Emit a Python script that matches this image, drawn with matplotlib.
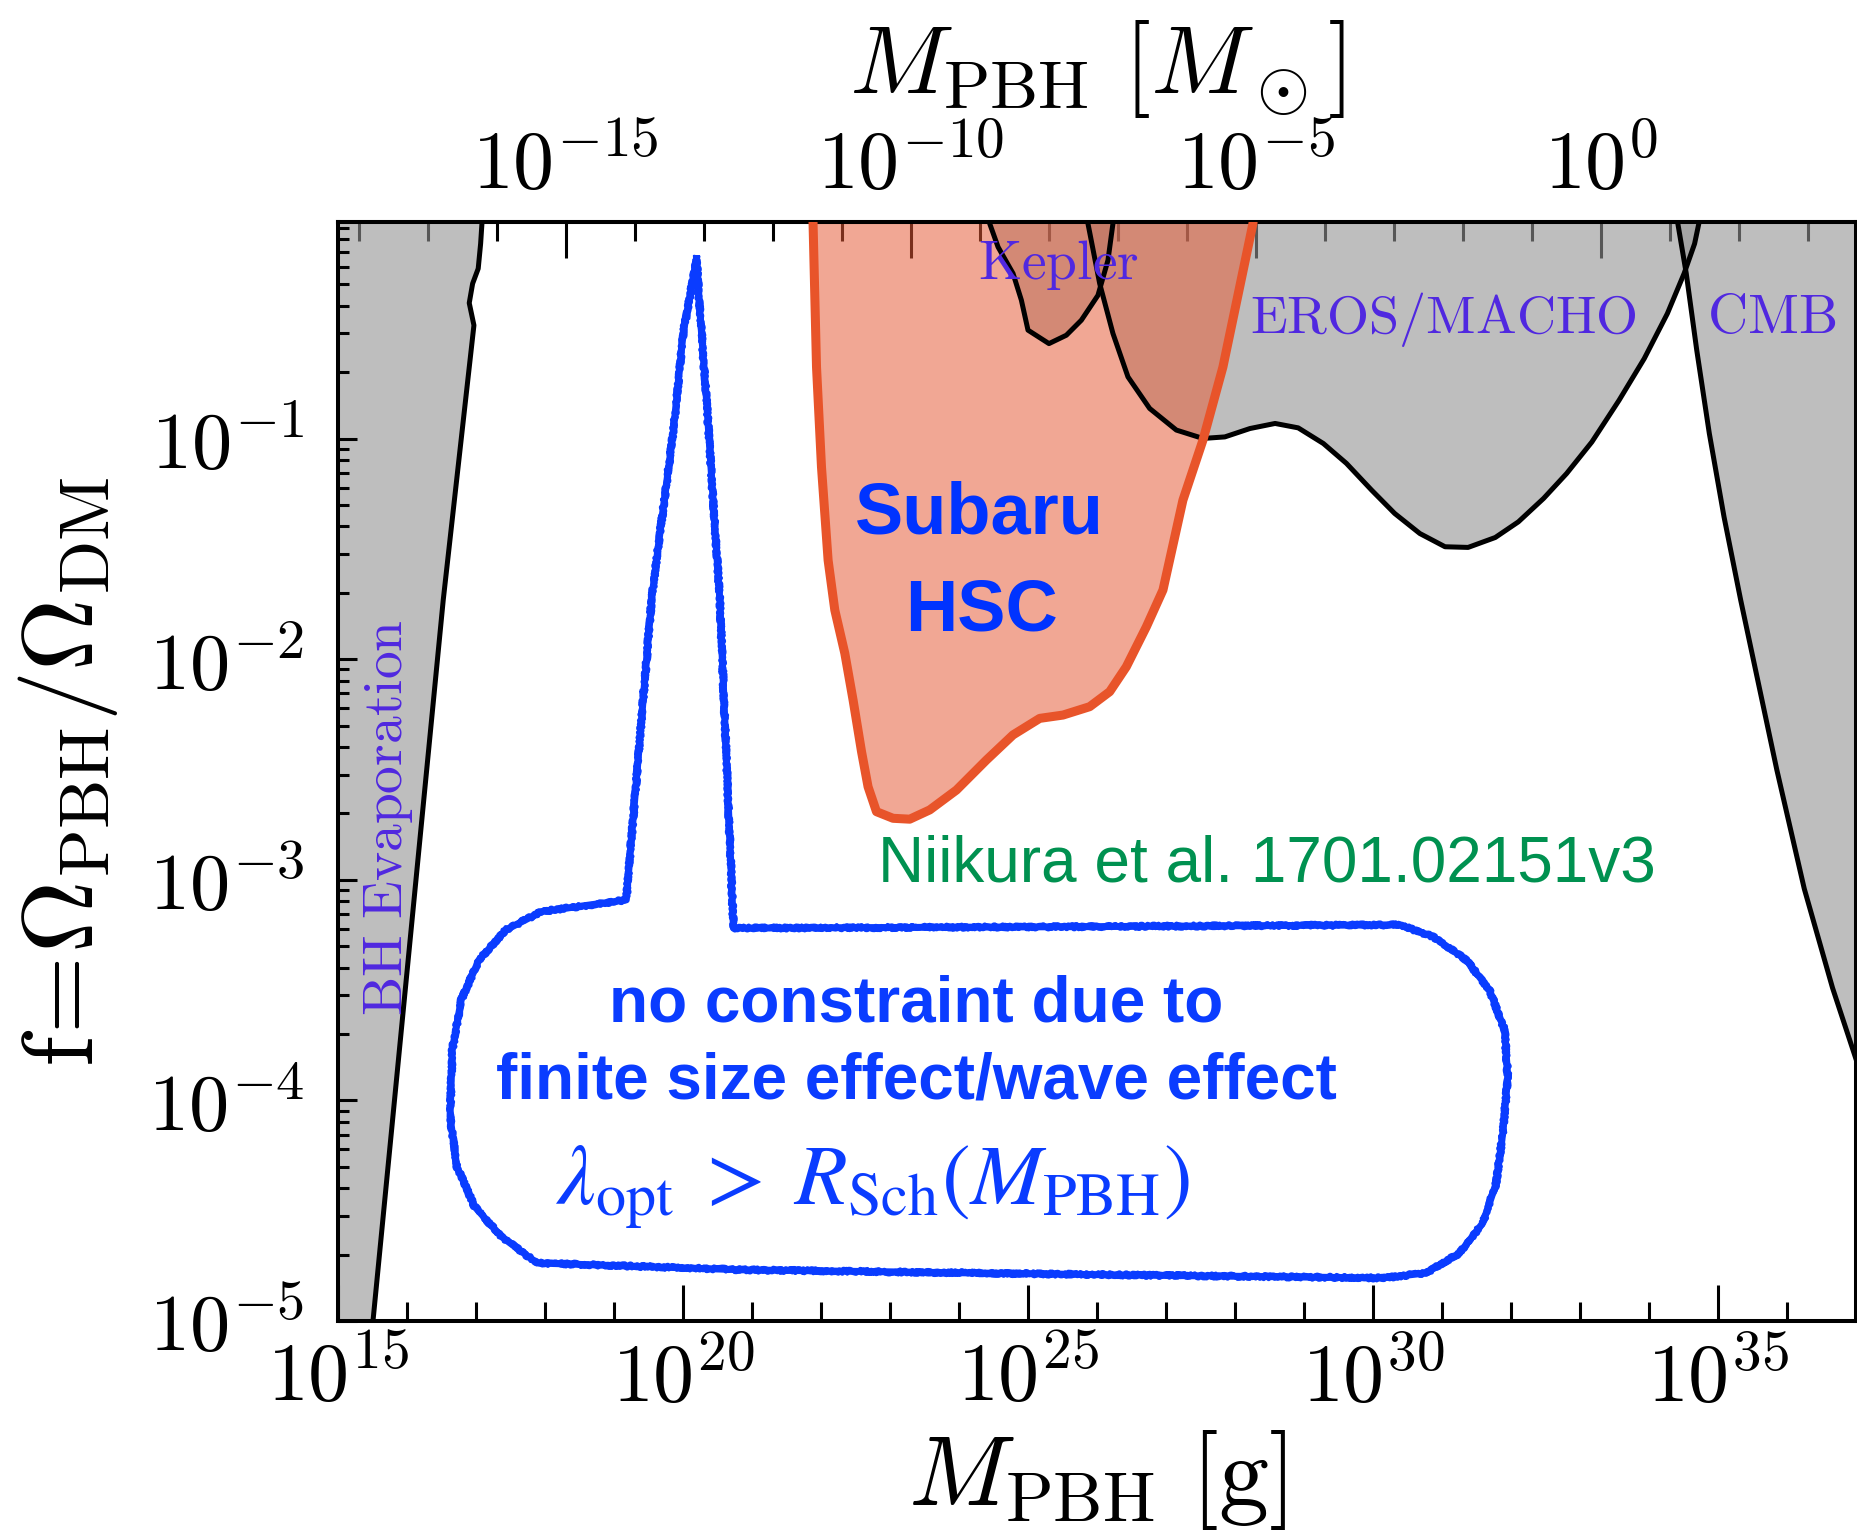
import numpy as np
import matplotlib
matplotlib.use("Agg")
import matplotlib.pyplot as plt

plt.rcParams['mathtext.fontset'] = 'cm'

# all curves stored as log10(M [g]) and log10(f)
bh_logm = [15.30, 15.507, 16.525, 16.970, 16.902, 16.951, 17.032, 17.067, 17.086, 17.10]
bh_logf = [-5.3, -5.0, -1.732, -0.486, -0.385, -0.297, -0.229, -0.116, -0.025, 0.05]

kep_logm = [24.43, 24.445, 24.566, 24.783, 24.904, 25.000, 25.304, 25.556, 25.773, 26.014, 26.159, 26.231, 26.24]
kep_logf = [0.05, -0.025, -0.131, -0.251, -0.372, -0.508, -0.569, -0.531, -0.463, -0.350, -0.191, -0.025, 0.05]

eros_logm = [25.85, 25.869, 26.039, 26.231, 26.449, 26.763, 27.150, 27.535, 27.853, 28.217, 28.581,
             28.916, 29.281, 29.615, 29.979, 30.314, 30.679, 31.044, 31.378, 31.772, 32.107,
             32.472, 32.806, 33.172, 33.566, 33.931, 34.266, 34.509, 34.661, 34.722, 34.73]
eros_logf = [0.05, -0.025, -0.297, -0.523, -0.720, -0.863, -0.961, -0.999, -0.992, -0.954, -0.931,
             -0.951, -1.022, -1.112, -1.233, -1.339, -1.430, -1.490, -1.493, -1.448, -1.377,
             -1.271, -1.158, -1.015, -0.826, -0.637, -0.433, -0.251, -0.116, -0.025, 0.05]

cmb_logm = [34.40, 34.418, 34.540, 34.692, 34.874, 35.087, 35.329, 35.853, 36.25, 36.66, 37.05]
cmb_logf = [0.05, -0.025, -0.251, -0.599, -0.976, -1.354, -1.732, -2.502, -3.04, -3.49, -3.86]

hsc_logm = [21.88, 21.885, 21.935, 22.007, 22.103, 22.200, 22.345, 22.465, 22.587, 22.682, 22.804,
            23.044, 23.286, 23.576, 23.963, 24.397, 24.783, 25.170, 25.507, 25.894, 26.184,
            26.425, 26.715, 26.956, 27.245, 27.535, 27.825, 28.260, 28.28]
hsc_logf = [0.05, -0.025, -0.675, -1.128, -1.551, -1.777, -1.973, -2.185, -2.418, -2.578, -2.691,
            -2.721, -2.725, -2.683, -2.593, -2.457, -2.343, -2.268, -2.253, -2.215, -2.147,
            -2.034, -1.853, -1.686, -1.279, -1.007, -0.675, -0.025, 0.05]

# hand drawn "no constraint" bubble
blob_logm = [20.196, 20.002, 19.857, 19.665, 19.544, 19.178, 17.949, 17.432, 17.044, 16.786,
             16.656, 16.624, 16.721, 16.979, 17.367, 17.884, 20.860, 26.039, 30.143, 30.771,
             31.254, 31.591, 31.785, 31.881, 31.953, 31.906, 31.688, 31.351, 30.867, 30.385,
             26.039, 20.731, 20.534, 20.437, 20.341, 20.244, 20.196]
blob_logf = [-0.184, -0.523, -0.976, -1.430, -1.732, -3.091, -3.144, -3.227, -3.363, -3.544,
             -3.771, -4.073, -4.299, -4.481, -4.617, -4.737, -4.768, -4.790, -4.805, -4.782,
             -4.692, -4.556, -4.375, -4.148, -3.892, -3.680, -3.499, -3.363, -3.257, -3.204,
             -3.212, -3.219, -1.732, -1.279, -0.826, -0.418, -0.184]

msun = 1.989e33
top_ticks = [-15, -10, -5, 0]

gray = '#939393'
purple = '#5028E0'
blue = '#0A3CFF'

fig = plt.figure(figsize=(18.58, 15.33), dpi=100)
ax = fig.add_axes([338/1858, 1-1321/1533, (1856-338)/1858, (1321-222)/1533])

p = lambda a: 10**np.array(a)
ytop = 10**0.6

ax.fill_betweenx(p(bh_logf), 1e10, p(bh_logm), color=gray, alpha=0.6, lw=0, zorder=1)
ax.fill_between(p(kep_logm), p(kep_logf), ytop, color=gray, alpha=0.6, lw=0, zorder=1)
ax.fill_between(p(eros_logm), p(eros_logf), ytop, color=gray, alpha=0.6, lw=0, zorder=1)
ax.fill_betweenx(p(cmb_logf), p(cmb_logm), 1e40, color=gray, alpha=0.6, lw=0, zorder=1)

ax.fill_between(p(hsc_logm), p(hsc_logf), ytop, color='#E65A35', alpha=0.53, lw=0, zorder=2)

for xs, ys in [(bh_logm, bh_logf), (kep_logm, kep_logf), (eros_logm, eros_logf), (cmb_logm, cmb_logf)]:
    ax.plot(p(xs), p(ys), color='k', lw=3.6, zorder=3)
ax.plot(p(hsc_logm), p(hsc_logf), color='#E8542A', lw=6.5, zorder=4, solid_capstyle='butt')

ax.plot(p(blob_logm), p(blob_logf), color=blue, lw=5.0, zorder=5, solid_joinstyle='round')
for sk in [(2.2, 5, 25), (1.8, 8, 14)]:
    ln, = ax.plot(p(blob_logm), p(blob_logf), color=blue, lw=3.5, zorder=5, solid_joinstyle='round')
    ln.set_sketch_params(*sk)

ax.set_xscale('log')
ax.set_yscale('log')
ax.set_xlim(1e15, 1e37)
ax.set_ylim(1e-5, 0.96)

ax.set_xticks([1e15, 1e20, 1e25, 1e30, 1e35])
ax.set_xticklabels([r'$10^{%d}$' % k for k in [15, 20, 25, 30, 35]])
ax.set_xticks([10.0**k for k in range(15, 38) if k % 5], minor=True)
ax.set_xticklabels([], minor=True)
ax.set_yticks([1e-5, 1e-4, 1e-3, 1e-2, 1e-1])
ax.set_yticklabels([r'$10^{%d}$' % k for k in [-5, -4, -3, -2, -1]])
ax.set_yticks([m * 10.0**k for k in range(-5, 0) for m in range(2, 10)], minor=True)
ax.set_yticklabels([], minor=True)

ax.tick_params(axis='x', which='major', direction='in', length=26, width=2.2, labelsize=59, pad=13, top=False)
ax.tick_params(axis='x', which='minor', direction='in', length=14, width=2.2, top=False)
ax.tick_params(axis='y', which='major', direction='in', length=14, width=2.2, labelsize=58, pad=24)
ax.tick_params(axis='y', which='minor', direction='in', length=8, width=2.2)
for s in ax.spines.values():
    s.set_linewidth(2.9)

sec = ax.secondary_xaxis('top', functions=(lambda m: m / msun, lambda m: m * msun))
sec.set_xscale('log')
sec.set_xticks([10.0**k for k in top_ticks])
sec.set_xticklabels([r'$10^{%d}$' % k for k in top_ticks])
sec.set_xticks([10.0**k for k in range(-18, 4) if k % 5], minor=True)
sec.set_xticklabels([], minor=True)
sec.tick_params(which='major', direction='in', length=26, width=2.2, labelsize=59, pad=12)
sec.tick_params(which='minor', direction='in', length=14, width=2.2)
sec.spines['top'].set_linewidth(2.9)
sec.set_xlabel(r'$M_{\rm PBH}\ [M_\odot]$', fontsize=70, labelpad=24)

ax.set_xlabel(r'$M_{\rm PBH}\ [{\rm g}]$', fontsize=72, labelpad=7)
ax.set_ylabel(r'${\rm f}\!=\!\Omega_{\rm PBH}/\Omega_{\rm DM}$', fontsize=72, labelpad=20)

ax.text(10**24.28, 10**-0.274, r'$\mathrm{Kepler}$', color=purple, fontsize=40, zorder=6)
ax.text(10**28.22, 10**-0.523, r'$\mathrm{EROS/MACHO}$', color=purple, fontsize=39, zorder=6)
ax.text(10**34.84, 10**-0.523, r'$\mathrm{CMB}$', color=purple, fontsize=40, zorder=6)
ax.text(10**15.73, 10**-2.72, r'$\mathrm{BH\ Evaporation}$', color=purple, fontsize=40,
        rotation=90, ha='center', va='center', zorder=6)

sans = 'Liberation Sans'
ax.text(10**24.30, 10**-1.43, 'Subaru', color='#0033FF', fontsize=52, fontweight='bold',
        family=sans, ha='center', zorder=6)
ax.text(10**24.32, 10**-1.868, 'HSC', color='#0033FF', fontsize=52, fontweight='bold',
        family=sans, ha='center', zorder=6)
ax.text(10**28.46, 10**-3.008, 'Niikura et al. 1701.02151v3', color='#009150', fontsize=46,
        family=sans, ha='center', zorder=6)
ax.text(10**23.38, 10**-3.642, 'no constraint due to', color=blue, fontsize=46, fontweight='bold',
        family=sans, ha='center', zorder=6)
ax.text(10**23.39, 10**-3.99, 'finite size effect/wave effect', color=blue, fontsize=46,
        fontweight='bold', family=sans, ha='center', zorder=6)
ax.text(10**22.75, 10**-4.473, r'$\lambda_{\rm opt}\;>\;R_{\rm Sch}(M_{\rm PBH})$', color=blue,
        fontsize=62, math_fontfamily='stix', ha='center', zorder=6)

fig.savefig('out.png', dpi=100)
